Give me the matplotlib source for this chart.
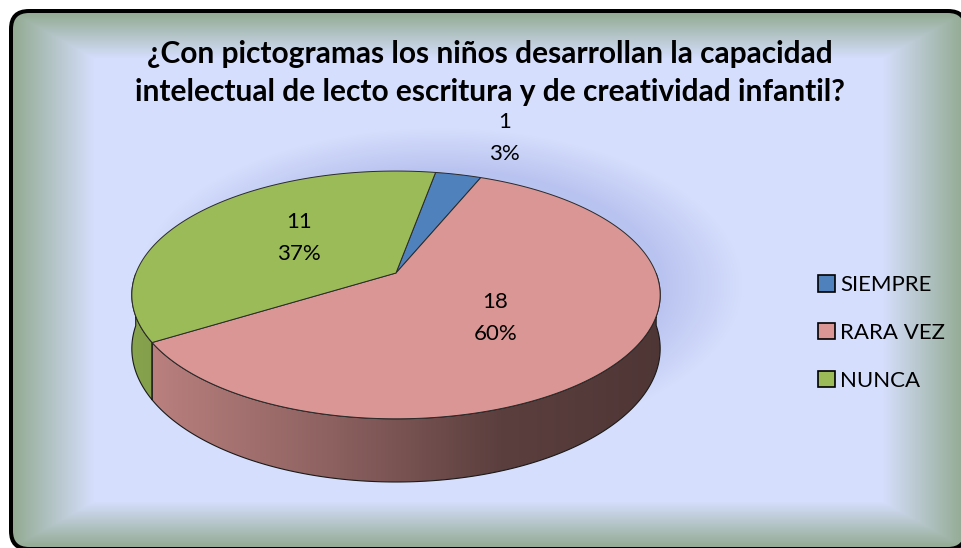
import numpy as np
import matplotlib.pyplot as plt
from matplotlib.patches import Polygon, FancyBboxPatch, Patch
from matplotlib.colors import to_rgb

# data
categories = ["SIEMPRE", "RARA VEZ", "NUNCA"]
counts = [1, 18, 11]
percent_labels = ["3%", "60%", "37%"]
top_colors = ["#4F81BD", "#D99694", "#9BBB59"]
title = ("¿Con pictogramas los niños desarrollan la capacidad\n"
         "intelectual de lecto escritura y de creatividad infantil?")

W, H = 962, 548
plt.rcParams['font.family'] = ['Lato', 'DejaVu Sans']
fig = plt.figure(figsize=(W / 100, H / 100), dpi=100)
ax = fig.add_axes([0, 0, 1, 1])
ax.axis('off')
ax.set_xlim(0, W)
ax.set_ylim(H, 0)

# pie geometry in pixels (simple perspective tilt)
cx, cy = 396, 273
A, B = 260, 120
k = 0.177
D = 52
start = 79.7


def proj(theta, r=1.0):
    th = np.radians(theta)
    u, v = r * np.cos(th), r * np.sin(th)
    s = 1 + k * v
    return cx + A * u / s, cy - B * v / s


def depth(theta):
    return D / (1 + k * np.sin(np.radians(theta)))


# background: rounded frame with rectangular path gradient + soft glow
fx0, fy0, fx1, fy1 = 13, 13, 964, 547
yy, xx = np.mgrid[0:H, 0:W] + 0.5
dx = np.minimum(xx - fx0, fx1 - xx) / ((fx1 - fx0) / 2)
dy = np.minimum(yy - fy0, fy1 - yy) / ((fy1 - fy0) / 2)
t = np.clip(np.minimum(dx, dy) / 0.17, 0, 1)
edge_c = np.array(to_rgb("#93AB93"))
mid_c = np.array(to_rgb("#D5DEFC"))
bg = edge_c + (mid_c - edge_c) * t[..., None]
rn = np.sqrt(((xx - 440) / 270) ** 2 + ((yy - 285) / 140) ** 2)
glow = 0.5 * np.clip((1.12 - rn) / 0.3, 0, 1) * t
glow_c = np.array(to_rgb("#9EA8E3"))
bg = bg * (1 - glow[..., None]) + glow_c * glow[..., None]

# black border = filled outer box, gradient clipped to the inner box
outer = FancyBboxPatch((fx0 - 4, fy0 - 4), fx1 - fx0 + 8, fy1 - fy0 + 8,
                       boxstyle="round,pad=0,rounding_size=20",
                       fc="black", ec="none", zorder=0)
ax.add_patch(outer)
inner = FancyBboxPatch((fx0, fy0), fx1 - fx0, fy1 - fy0,
                       boxstyle="round,pad=0,rounding_size=16",
                       transform=ax.transData)
im = ax.imshow(bg, extent=(0, W, H, 0), aspect='auto', zorder=1)
im.set_clip_path(inner)

# pie
fr = np.array(counts) / sum(counts)
edges = start - np.concatenate([[0], np.cumsum(fr) * 360])

shade_x = [120, 155, 330, 500, 670]
shade_f = [0.88, 0.85, 0.65, 0.42, 0.36]
gx = np.linspace(cx - A - 20, cx + A + 20, 400)
gf = np.interp(gx, shade_x, shade_f)

for i in range(len(counts)):
    th = np.linspace(edges[i], edges[i + 1], 300)
    front = np.sin(np.radians(th)) <= 0
    if front.sum() < 2:
        continue
    th = th[front]
    x, y = proj(th)
    d = depth(th)
    pts = np.vstack([np.column_stack([x, y]),
                     np.column_stack([x, y + d])[::-1]])
    side = Polygon(pts, closed=True, fc="none", ec="#1a1a1a", lw=0.8, zorder=3)
    ax.add_patch(side)
    grad = np.array(to_rgb(top_colors[i]))[None, None, :] * gf[None, :, None]
    gim = ax.imshow(grad, extent=(gx[0], gx[-1], H, cy - 10),
                    aspect='auto', zorder=2)
    gim.set_clip_path(side)

for i in range(len(counts)):
    th = np.linspace(edges[i], edges[i + 1], 300)
    x, y = proj(th)
    pts = np.vstack([[cx, cy], np.column_stack([x, y])])
    ax.add_patch(Polygon(pts, closed=True, fc=top_colors[i], ec="#2a2a2a",
                         lw=0.7, zorder=4))

# data labels (small slices go outside, nudged to the right like Excel)
for i in range(len(counts)):
    mid = (edges[i] + edges[i + 1]) / 2
    if fr[i] < 0.05:
        lx, ly = proj(mid - 4, 1.5)
    else:
        lx, ly = proj(mid - 4, 0.5)
    ax.text(lx, ly, f"{counts[i]}\n{percent_labels[i]}", ha="center",
            va="center", fontsize=16, linespacing=1.75, color="black", zorder=6)

ax.text(490, 73, title, ha="center", va="center", fontsize=21.5,
        fontweight="bold", linespacing=1.42, zorder=6)

handles = [Patch(fc=c, ec="black", lw=1.2) for c in top_colors]
ax.legend(handles, categories, loc="center left",
          bbox_to_anchor=(807 / W, 1 - 333 / H), frameon=False,
          fontsize=16, handlelength=0.75, handleheight=0.75,
          handletextpad=0.25, labelspacing=1.25, borderpad=0)

ax.set_xlim(0, W)
ax.set_ylim(H, 0)
fig.savefig("out.png", dpi=100, facecolor="white")
